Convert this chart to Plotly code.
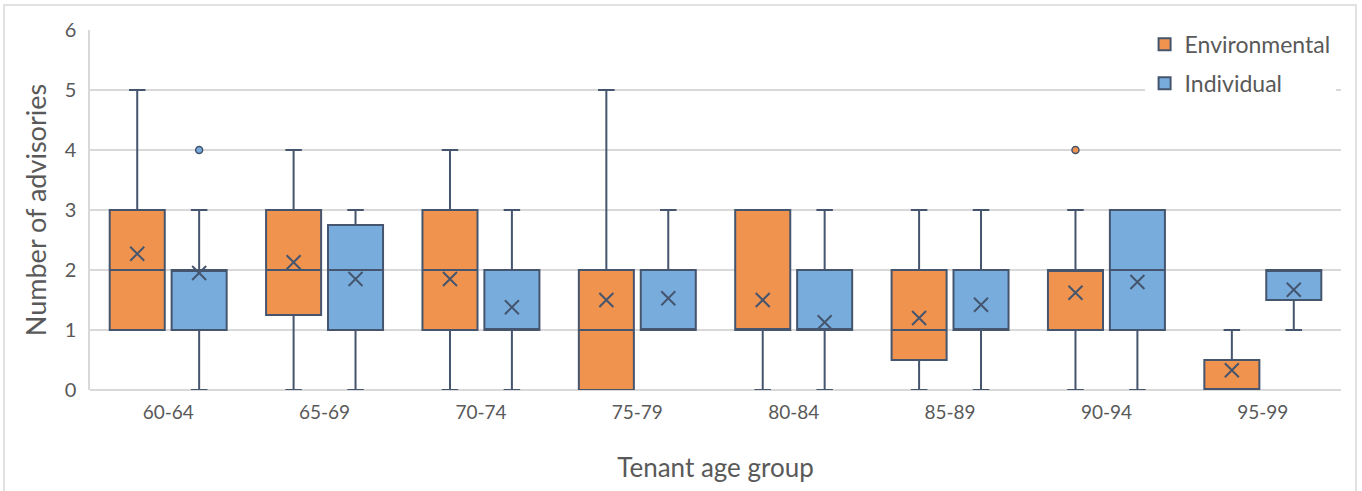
import plotly.graph_objects as go

categories = ["60-64", "65-69", "70-74", "75-79", "80-84", "85-89", "90-94", "95-99"]

env_q1 = [1, 1.25, 1, 0, 1, 0.5, 1, 0]
env_median = [2, 2, 2, 1, 1, 1, 2, 0]
env_q3 = [3, 3, 3, 2, 3, 2, 2, 0.5]
env_low = [1, 0, 0, 0, 0, 0, 0, 0]
env_high = [5, 4, 4, 5, 3, 3, 3, 1]
env_mean = [2.27, 2.13, 1.85, 1.5, 1.5, 1.2, 1.62, 0.33]
env_outlier_cat = ["90-94"]
env_outlier_val = [4]

ind_q1 = [1, 1, 1, 1, 1, 1, 1, 1.5]
ind_median = [2, 2, 1, 1, 1, 1, 2, 2]
ind_q3 = [2, 2.75, 2, 2, 2, 2, 3, 2]
ind_low = [0, 0, 0, 1, 0, 0, 0, 1]
ind_high = [3, 3, 3, 3, 3, 3, 3, 2]
ind_mean = [1.95, 1.85, 1.38, 1.53, 1.13, 1.42, 1.8, 1.67]
ind_outlier_cat = ["60-64"]
ind_outlier_val = [4]

ORANGE = "#F0934F"
BLUE = "#77ACDD"
EDGE = "#45556E"
TXT = "#595959"
FONT = "Lato, 'Open Sans', sans-serif"

OFFSET = 0.198
BOXW = 0.352

idx = {c: i for i, c in enumerate(categories)}

fig = go.Figure()

series = [
    ("Environmental", ORANGE, -OFFSET, env_q1, env_median, env_q3, env_low, env_high, env_mean, env_outlier_cat, env_outlier_val),
    ("Individual", BLUE, OFFSET, ind_q1, ind_median, ind_q3, ind_low, ind_high, ind_mean, ind_outlier_cat, ind_outlier_val),
]

for name, color, off, q1, med, q3, lo, hi, mean, ocat, oval in series:
    xs = [i + off for i in range(len(categories))]
    fig.add_trace(go.Box(
        name=name, x=xs, q1=q1, median=med, q3=q3,
        lowerfence=lo, upperfence=hi,
        width=BOXW, whiskerwidth=0.3,
        fillcolor=color, line=dict(color=EDGE, width=2),
        boxpoints=False, legendgroup=name, hoverinfo="skip",
    ))
    fig.add_trace(go.Scatter(
        x=xs, y=mean, mode="markers", showlegend=False, legendgroup=name,
        marker=dict(symbol="x-thin-open", size=14, color=EDGE, line=dict(color=EDGE, width=2)),
        hoverinfo="skip",
    ))
    fig.add_trace(go.Scatter(
        x=[idx[c] + off for c in ocat], y=oval, mode="markers", showlegend=False,
        legendgroup=name,
        marker=dict(symbol="circle", size=7, color=color, line=dict(color=EDGE, width=1.5)),
        hoverinfo="skip",
    ))

W, H = 1362, 491
L, R, T, B = 90, 21, 30, 101
pw, ph = W - L - R, H - T - B

fig.add_shape(type="rect", xref="paper", yref="paper",
              x0=(4 - L) / pw, x1=(1356 - L) / pw,
              y0=-(H + 5 - T - ph) / ph, y1=1 + (T - 5) / ph,
              line=dict(color="#D9D9D9", width=1.5), fillcolor="rgba(0,0,0,0)", layer="below")

fig.update_layout(
    width=W, height=H,
    margin=dict(l=L, r=R, t=T, b=B, pad=0),
    plot_bgcolor="white", paper_bgcolor="white",
    font=dict(family=FONT, color=TXT),
    boxmode="overlay",
    showlegend=True,
    legend=dict(x=0.843, y=1.02, xanchor="left", yanchor="top",
                font=dict(size=23, color=TXT, family=FONT),
                bgcolor="white", tracegroupgap=6, itemwidth=30),
    xaxis=dict(
        range=[-0.5, len(categories) - 0.5],
        tickmode="array", tickvals=list(range(len(categories))), ticktext=categories,
        tickfont=dict(size=19, color=TXT), showgrid=False, zeroline=False,
        ticks="", showline=False, automargin=False, ticklabelstandoff=9,
        title=dict(text="Tenant age group", font=dict(size=26, color=TXT), standoff=36),
    ),
    yaxis=dict(
        range=[0, 6], dtick=1, tickfont=dict(size=20, color=TXT),
        gridcolor="#D9D9D9", gridwidth=1.5, zeroline=True, zerolinecolor="#D9D9D9",
        zerolinewidth=1.5, showline=True, linecolor="#D9D9D9", linewidth=1.5,
        ticks="", ticklabelstandoff=8, automargin=False,
        title=dict(text="Number of advisories", font=dict(size=27, color=TXT), standoff=10),
    ),
)

fig.write_html("out.html", config={"displayModeBar": False},
               post_script="document.body.style.margin='0';document.body.style.overflow='hidden';")
